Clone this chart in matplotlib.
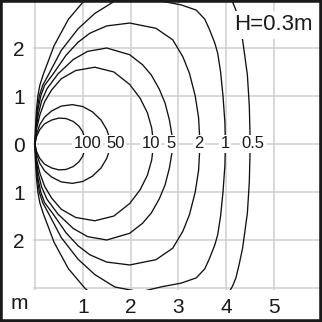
import matplotlib
matplotlib.use("Agg")
import matplotlib.pyplot as plt
from matplotlib.patches import Rectangle

plt.rcParams['font.family'] = ['Liberation Sans', 'DejaVu Sans']

# isolux levels (lux) and where their labels sit on the axis (m)
levels = ["100", "50", "10", "5", "2", "1", "0.5"]
label_x = [1.10, 1.69, 2.42, 2.85, 3.42, 3.98, 4.56]

# upper half of each curve (x, y in m); lower half is the mirror
c100_x = [0, 0.03, 0.1, 0.2, 0.35, 0.5, 0.65, 0.8, 0.92, 1.0, 1.04, 1.05]
c100_y = [0, 0.15, 0.3, 0.42, 0.5, 0.54, 0.53, 0.47, 0.37, 0.25, 0.12, 0]
c50_x = [0, 0.03, 0.1, 0.2, 0.35, 0.55, 0.78, 1.0, 1.2, 1.38, 1.5, 1.55, 1.57]
c50_y = [0, 0.2, 0.4, 0.56, 0.69, 0.79, 0.82, 0.78, 0.67, 0.5, 0.3, 0.15, 0]
c10_x = [0, 0.03, 0.1, 0.2, 0.35, 0.55, 0.85, 1.25, 1.65, 1.98, 2.2, 2.35, 2.44, 2.48]
c10_y = [0, 0.3, 0.6, 0.88, 1.13, 1.36, 1.53, 1.6, 1.5, 1.24, 0.95, 0.65, 0.33, 0]
c5_x = [0, 0.02, 0.07, 0.14, 0.25, 0.48, 0.8, 1.1, 1.5, 1.98, 2.25, 2.43, 2.6, 2.72, 2.81, 2.86, 2.87]
c5_y = [0, 0.3, 0.62, 0.9, 1.15, 1.46, 1.76, 1.93, 2.0, 1.86, 1.65, 1.44, 1.14, 0.85, 0.5, 0.2, 0]
c2_x = [0, 0.02, 0.06, 0.12, 0.2, 0.38, 0.65, 0.9, 1.15, 1.5, 1.98, 2.53, 2.88, 3.09, 3.23, 3.35, 3.42, 3.45]
c2_y = [0, 0.35, 0.7, 1.0, 1.22, 1.46, 1.85, 2.12, 2.31, 2.46, 2.52, 2.41, 2.17, 1.82, 1.47, 1.0, 0.55, 0]
c1_x = [0, 0.015, 0.045, 0.09, 0.16, 0.28, 0.55, 0.9, 1.25, 1.67, 2.2, 2.67, 3.05, 3.37,
        3.55, 3.65, 3.76, 3.82, 3.88, 3.93, 3.97, 3.98]
c1_y = [0, 0.35, 0.7, 1.0, 1.22, 1.44, 1.95, 2.4, 2.72, 2.98, 3.08, 2.97, 2.9, 2.79,
        2.6, 2.38, 2.1, 1.89, 1.5, 1.0, 0.45, 0]
c05_x = [0, 0.01, 0.03, 0.06, 0.1, 0.17, 0.4, 0.7, 1.04, 1.6, 2.6, 3.6, 4.05, 4.13,
         4.2, 4.27, 4.34, 4.44, 4.48, 4.5]
c05_y = [0, 0.35, 0.7, 1.0, 1.22, 1.44, 2.05, 2.6, 3.0, 3.5, 3.7, 3.4, 3.1, 2.96,
         2.79, 2.5, 2.17, 1.44, 0.8, 0]

curves = [(c100_x, c100_y), (c50_x, c50_y), (c10_x, c10_y), (c5_x, c5_y),
          (c2_x, c2_y), (c1_x, c1_y), (c05_x, c05_y)]

x_ticks = [0, 1, 2, 3, 4, 5, 6]
x_labels = ["", "1", "2", "3", "4", "5", ""]
y_ticks = [-3, -2, -1, 0, 1, 2, 3]
y_labels = ["", "2", "1", "0", "1", "2", ""]

fig = plt.figure(figsize=(3.22, 3.22), dpi=100)
# 48 px per metre, x=0 at px 35, y=0 at px 144
ax = fig.add_axes([33 / 322, 32 / 322, 289 / 322, 290 / 322])
ax.set_xlim(-2 / 48, 287 / 48)
ax.set_ylim(-146 / 48, 3)

for xs, ys in curves:
    full_x = list(xs) + list(reversed(xs))[1:]
    full_y = list(ys) + [-v for v in reversed(ys)][1:]
    ax.plot(full_x, full_y, color="#111111", lw=0.95, zorder=3)

for lab, lx in zip(levels, label_x):
    ax.text(lx, 0, lab, ha="center", va="center", fontsize=12, color="#1a1a1a", zorder=5,
            bbox=dict(boxstyle="square,pad=0.08", fc="white", ec="none"))

ax.text(4.98, 2.48, "H=0.3m", ha="center", va="center", fontsize=16, color="#1a1a1a", zorder=5,
        bbox=dict(boxstyle="square,pad=0.15", fc="white", ec="none"))

ax.set_xticks(x_ticks)
ax.set_xticklabels(x_labels)
ax.set_yticks(y_ticks)
ax.set_yticklabels(y_labels)
ax.tick_params(length=0, labelsize=15, colors="#1a1a1a", pad=6)
ax.tick_params(axis="y", pad=6)
ax.grid(True, color="#d0d0d0", lw=1.1, zorder=0)
ax.set_axisbelow(True)
for s in ax.spines.values():
    s.set_visible(False)

ax.text(-0.33, -3.33, "m", ha="center", va="center", fontsize=15, color="#1a1a1a", clip_on=False)

fig.patches.append(Rectangle((0, 0), 1, 1, transform=fig.transFigure, fill=False,
                             ec="#1a1a1a", lw=4, zorder=10))

fig.savefig("out.png", dpi=100)
